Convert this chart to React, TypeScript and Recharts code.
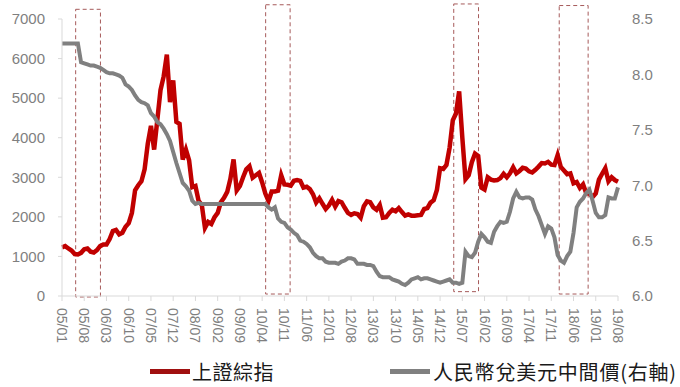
import React from 'react'
import { ComposedChart, Line, XAxis, YAxis, ReferenceArea } from 'recharts'

// tick labels, one every 7 months (yy/mm)
const tickLabels = [
  '05/01', '05/08', '06/03', '06/10', '07/05', '07/12', '08/07', '09/02', '09/09', '10/04', '10/11', '11/06', '12/01',
  '12/08', '13/03', '13/10', '14/05', '14/12', '15/07', '16/02', '16/09', '17/04', '17/11', '18/06', '19/01', '19/08',
]
const tickIndex = [0, 7, 14, 21, 28, 35, 42, 49, 56, 63, 70, 77, 84, 91, 98, 105, 112, 119, 126, 133, 140, 147, 154, 161, 168, 175]

// Shanghai composite, monthly, 2005/01 .. 2019/08
const shanghai = [
  1230, 1260, 1200, 1150, 1060, 1050, 1090, 1180, 1200, 1120, 1100, 1160, // 2005
  1260, 1300, 1300, 1440, 1640, 1670, 1560, 1600, 1750, 1840, 2100, 2670, // 2006
  2800, 2900, 3200, 3850, 4300, 3700, 4450, 5200, 5550, 6100, 4900, 5450, // 2007
  4400, 4350, 3450, 3700, 3430, 2750, 2780, 2400, 2300, 1720, 1870, 1820, // 2008
  1990, 2100, 2370, 2480, 2630, 2960, 3450, 2670, 2780, 3000, 3200, 3280, // 2009
  2990, 3050, 3110, 2870, 2590, 2400, 2640, 2640, 2660, 3050, 2820, 2810, // 2010
  2790, 2910, 2930, 2910, 2740, 2760, 2700, 2570, 2360, 2470, 2330, 2200, // 2011
  2290, 2430, 2260, 2400, 2370, 2230, 2100, 2050, 2090, 2070, 1980, 2270, // 2012
  2390, 2370, 2240, 2180, 2300, 1980, 1990, 2100, 2180, 2140, 2220, 2120, // 2013
  2030, 2060, 2030, 2030, 2040, 2050, 2200, 2220, 2360, 2420, 2680, 3230, // 2014
  3210, 3310, 3750, 4440, 4610, 5170, 4000, 2950, 3050, 3380, 3600, 3540, // 2015
  2740, 2690, 3000, 2940, 2920, 2930, 2980, 3090, 3000, 3100, 3250, 3100, // 2016
  3160, 3240, 3220, 3150, 3120, 3190, 3270, 3360, 3350, 3390, 3320, 3310, // 2017
  3560, 3260, 3170, 3080, 3100, 2850, 2880, 2730, 2820, 2600, 2590, 2500, // 2018
  2590, 2940, 3090, 3230, 2900, 3000, 2930, 2890, // 2019
]

// RMB per USD central parity, monthly, 2005/01 .. 2019/08
const usdCny = [
  8.28, 8.28, 8.28, 8.28, 8.28, 8.28, 8.11, 8.10, 8.09, 8.08, 8.08, 8.07, // 2005
  8.06, 8.04, 8.02, 8.01, 8.01, 8.00, 7.99, 7.97, 7.91, 7.89, 7.86, 7.81, // 2006
  7.77, 7.75, 7.74, 7.72, 7.65, 7.62, 7.57, 7.55, 7.51, 7.46, 7.40, 7.30, // 2007
  7.20, 7.11, 7.02, 6.99, 6.95, 6.86, 6.83, 6.84, 6.83, 6.83, 6.83, 6.83, // 2008
  6.83, 6.83, 6.83, 6.83, 6.83, 6.83, 6.83, 6.83, 6.83, 6.83, 6.83, 6.83, // 2009
  6.83, 6.83, 6.83, 6.83, 6.83, 6.80, 6.78, 6.80, 6.70, 6.67, 6.66, 6.62, // 2010
  6.60, 6.57, 6.55, 6.50, 6.49, 6.47, 6.44, 6.39, 6.36, 6.34, 6.34, 6.31, // 2011
  6.30, 6.30, 6.30, 6.29, 6.31, 6.32, 6.34, 6.34, 6.33, 6.29, 6.29, 6.29, // 2012
  6.28, 6.28, 6.27, 6.22, 6.18, 6.17, 6.17, 6.17, 6.15, 6.14, 6.13, 6.11, // 2013
  6.10, 6.12, 6.15, 6.16, 6.17, 6.15, 6.16, 6.16, 6.15, 6.14, 6.13, 6.12, // 2014
  6.13, 6.14, 6.15, 6.12, 6.12, 6.11, 6.12, 6.40, 6.36, 6.35, 6.39, 6.49, // 2015
  6.56, 6.53, 6.49, 6.48, 6.58, 6.63, 6.67, 6.66, 6.67, 6.76, 6.88, 6.94, // 2016
  6.89, 6.88, 6.89, 6.89, 6.87, 6.78, 6.72, 6.64, 6.56, 6.63, 6.61, 6.53, // 2017
  6.37, 6.32, 6.30, 6.36, 6.40, 6.57, 6.80, 6.85, 6.88, 6.93, 6.96, 6.86, // 2018
  6.75, 6.71, 6.71, 6.73, 6.89, 6.88, 6.88, 6.98, // 2019
]

// highlighted periods (month index from 2005/01)
const highlightFrom = [4.3, 64.1, 123.3, 156.5]
const highlightTo = [12.1, 71.8, 131.1, 165.6]
const highlightTop = [7245, 7360, 7380, 7340]
const highlightBottom = [-25, 50, 110, 50]

const data = shanghai.map((v, i) => ({ m: i, sh: v, fx: usdCny[i] }))

const FONT = '"Liberation Sans", Arial, sans-serif'
const CJK = '"Noto Sans CJK TC", "Noto Sans CJK SC", sans-serif'

const XTick = (props: any) => {
  const { x, y, payload } = props
  const label = tickLabels[tickIndex.indexOf(payload.value)]
  return (
    <text
      x={x}
      y={y + 5}
      transform={`rotate(90, ${x}, ${y + 5})`}
      textAnchor="start"
      dominantBaseline="central"
      fill="#7f7f7f"
      fontSize={14}
      fontFamily={FONT}
    >
      {label}
    </text>
  )
}

export default function App() {
  return (
    <div style={{ position: 'absolute', left: 0, top: 0, width: 680, height: 387, background: '#fff' }}>
      <ComposedChart width={680} height={387} data={data} margin={{ top: 19, right: 0, bottom: 0, left: 0 }}>
        <XAxis
          dataKey="m"
          type="number"
          domain={[0, 175]}
          ticks={tickIndex}
          height={91}
          tick={<XTick />}
          tickSize={5}
          stroke="#d9d9d9"
          interval={0}
        />
        <YAxis
          yAxisId="left"
          domain={[0, 7000]}
          ticks={[0, 1000, 2000, 3000, 4000, 5000, 6000, 7000]}
          width={62}
          tickSize={4}
          tickMargin={13}
          stroke="#d9d9d9"
          tick={{ fill: '#7f7f7f', fontSize: 15, fontFamily: FONT }}
        />
        <YAxis
          yAxisId="right"
          orientation="right"
          domain={[6, 8.5]}
          ticks={[6, 6.5, 7, 7.5, 8, 8.5]}
          tickFormatter={(v: number) => v.toFixed(1)}
          width={62}
          axisLine={false}
          tickLine={false}
          tickSize={0}
          tickMargin={14}
          tick={{ fill: '#7f7f7f', fontSize: 15, fontFamily: FONT }}
        />
        {highlightFrom.map((from, k) => (
          <ReferenceArea
            key={k}
            yAxisId="left"
            x1={from}
            x2={highlightTo[k]}
            y1={highlightBottom[k]}
            y2={highlightTop[k]}
            ifOverflow="visible"
            fill="none"
            fillOpacity={0}
            stroke="#a65a5a"
            strokeWidth={1}
            strokeDasharray="4 3"
          />
        ))}
        <Line
          yAxisId="left"
          dataKey="sh"
          type="linear"
          stroke="#c00000"
          strokeWidth={4.5}
          dot={false}
          isAnimationActive={false}
        />
        <Line
          yAxisId="right"
          dataKey="fx"
          type="linear"
          stroke="#808080"
          strokeWidth={4}
          dot={false}
          isAnimationActive={false}
        />
      </ComposedChart>
      <div style={{ position: 'absolute', left: 150, top: 359, height: 24, display: 'flex', alignItems: 'center', fontFamily: CJK, fontSize: 20, color: '#1a1a1a', whiteSpace: 'nowrap', letterSpacing: 0.5 }}>
        <span style={{ display: 'inline-block', width: 40, height: 5, background: '#a01010', marginRight: 2 }} />
        上證綜指
      </div>
      <div style={{ position: 'absolute', left: 390, top: 359, height: 24, display: 'flex', alignItems: 'center', fontFamily: CJK, fontSize: 20, color: '#1a1a1a', whiteSpace: 'nowrap', letterSpacing: 0.8 }}>
        <span style={{ display: 'inline-block', width: 40, height: 5, background: '#808080', marginRight: 3 }} />
        人民幣兌美元中間價(右軸)
      </div>
    </div>
  )
}
